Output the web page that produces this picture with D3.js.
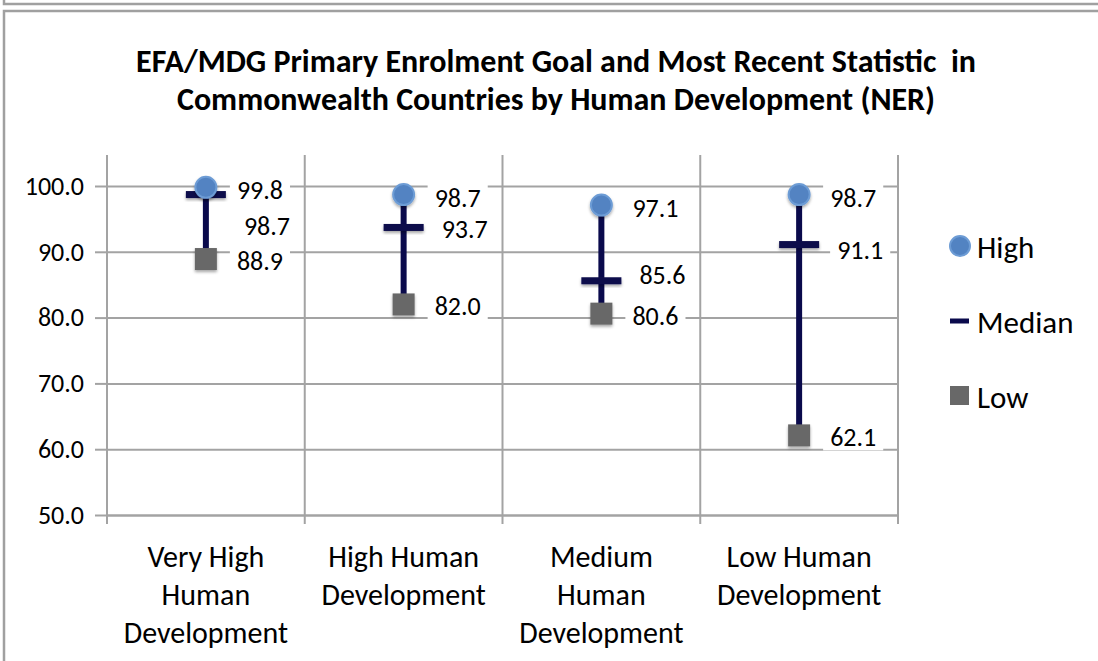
<!DOCTYPE html>
<html>
<head>
<meta charset="utf-8">
<script src="https://cdn.jsdelivr.net/npm/d3@7"></script>
<style>
  body { margin: 0; background: #fff; }
  text { font-family: Carlito, Lato, "Open Sans", sans-serif; fill: #000; }
</style>
</head>
<body>
<div id="chart"></div>
<script>
// Chart values
const categories = ['Very High Human Development', 'High Human Development', 'Medium Human Development', 'Low Human Development'];
const categoryLines = [['Very High', 'Human', 'Development'], ['High Human', 'Development'], ['Medium', 'Human', 'Development'], ['Low Human', 'Development']];
const highValues = [99.8, 98.7, 97.1, 98.7];
const medianValues = [98.7, 93.7, 85.6, 91.1];
const lowValues = [88.9, 82.0, 80.6, 62.1];
const yTicks = [50, 60, 70, 80, 90, 100];
const seriesNames = ['High', 'Median', 'Low'];
const titleLines = ['EFA/MDG Primary Enrolment Goal and Most Recent Statistic  in', 'Commonwealth Countries by Human Development (NER)'];

const W = 1098, H = 661;
const margin = {top: 155, left: 107, right: 200, bottom: 146};
const width = W - margin.left - margin.right,
  height = H - margin.top - margin.bottom;
const gridColor = '#a3a3a3';

const root = d3.select('#chart').append('svg')
  .attr('width', W)
  .attr('height', H);

// soft shadow used under the markers
const defs = root.append('defs');
const shadow = defs.append('filter').attr('id', 'shadow')
  .attr('x', '-50%').attr('y', '-50%').attr('width', '200%').attr('height', '200%');
shadow.append('feDropShadow')
  .attr('dx', 0).attr('dy', 2).attr('stdDeviation', 1.6)
  .attr('flood-color', '#000').attr('flood-opacity', 0.35);

// outer frames from the source document
root.append('path')
  .attr('d', `M4,0 V4 H${W}`)
  .attr('fill', 'none').attr('stroke', '#a0a0a0').attr('stroke-width', 2.5);
root.append('path')
  .attr('d', `M4,${H} V11 H${W}`)
  .attr('fill', 'none').attr('stroke', '#a0a0a0').attr('stroke-width', 2.5);

// title
root.append('text')
  .attr('x', 556)
  .attr('y', 72)
  .attr('text-anchor', 'middle')
  .style('font-size', '32px')
  .style('font-weight', 'bold')
  .style('white-space', 'pre')
  .selectAll('tspan')
  .data(titleLines)
  .enter()
  .append('tspan')
  .attr('x', 556)
  .attr('dy', (d, i) => i === 0 ? 0 : 38)
  .text(d => d);

const svg = root.append('g')
  .attr('transform', `translate(${margin.left}, ${margin.top})`);

// scales
const xScale = d3.scaleBand()
  .domain(categories)
  .range([0, width]);

const yScale = d3.scaleLinear()
  .domain([50, 100])
  .range([height, 31]);

// horizontal gridlines
svg.append('g')
  .attr('class', 'grid')
  .call(d3.axisLeft(yScale).tickValues(yTicks).tickSize(-width).tickFormat(''))
  .call(g => g.select('.domain').remove())
  .call(g => g.selectAll('line').attr('stroke', gridColor).attr('stroke-width', 2));

// vertical gridlines at category borders
const borders = categories.map(c => xScale(c) + xScale.bandwidth());
svg.append('g')
  .selectAll('line')
  .data(borders)
  .enter()
  .append('line')
  .attr('x1', d => d).attr('x2', d => d)
  .attr('y1', 0).attr('y2', height + 9)
  .attr('stroke', gridColor).attr('stroke-width', 2);

// y axis
const yAxis = d3.axisLeft(yScale)
  .tickValues(yTicks)
  .tickSize(12)
  .tickPadding(11)
  .tickFormat(d3.format('.1f'));

svg.append('g')
  .attr('class', 'axis y-axis')
  .call(yAxis)
  .call(g => g.select('.domain').remove())
  .call(g => g.selectAll('line').attr('stroke', gridColor).attr('stroke-width', 2))
  .call(g => g.selectAll('text').style('font-size', '26px').attr('fill', '#000'));

svg.append('line')
  .attr('x1', 0).attr('x2', 0)
  .attr('y1', 0).attr('y2', height + 9)
  .attr('stroke', gridColor).attr('stroke-width', 2);

// x axis (category labels, wrapped like the original)
const xAxis = d3.axisBottom(xScale)
  .tickSize(0)
  .tickPadding(0)
  .tickFormat('');

const xAxisGroup = svg.append('g')
  .attr('class', 'axis x-axis')
  .attr('transform', `translate(0, ${height})`)
  .call(xAxis)
  .call(g => g.select('.domain').attr('stroke', gridColor).attr('stroke-width', 2));

xAxisGroup.selectAll('.tick')
  .append('text')
  .attr('text-anchor', 'middle')
  .attr('y', 52)
  .style('font-size', '30px')
  .selectAll('tspan')
  .data((d, i) => categoryLines[i])
  .enter()
  .append('tspan')
  .attr('x', 0)
  .attr('dy', (d, i) => i === 0 ? 0 : 38)
  .text(d => d);

// marker data
const rows = categories.map((c, i) => ({
  cat: c, high: highValues[i], median: medianValues[i], low: lowValues[i]
}));
const cx = d => xScale(d.cat) + xScale.bandwidth() / 2;

const navy = '#0a0a4c';

// high-low stems
svg.selectAll('.stem')
  .data(rows)
  .enter()
  .append('line')
  .attr('class', 'stem')
  .attr('x1', cx).attr('x2', cx)
  .attr('y1', d => yScale(d.high))
  .attr('y2', d => yScale(d.low))
  .attr('stroke', navy)
  .attr('stroke-width', 6);

// median dashes
svg.selectAll('.median')
  .data(rows)
  .enter()
  .append('rect')
  .attr('class', 'median')
  .attr('x', d => cx(d) - 20)
  .attr('y', d => yScale(d.median) - 3.5)
  .attr('width', 40)
  .attr('height', 7)
  .attr('fill', navy)
  .attr('filter', 'url(#shadow)');

// low squares
svg.selectAll('.low')
  .data(rows)
  .enter()
  .append('rect')
  .attr('class', 'low')
  .attr('x', d => cx(d) - 11)
  .attr('y', d => yScale(d.low) - 11)
  .attr('width', 22)
  .attr('height', 22)
  .attr('fill', '#686868')
  .attr('filter', 'url(#shadow)');

// high circles
svg.selectAll('.high')
  .data(rows)
  .enter()
  .append('circle')
  .attr('class', 'high')
  .attr('cx', cx)
  .attr('cy', d => yScale(d.high))
  .attr('r', 10.5)
  .attr('fill', '#5283c2')
  .attr('stroke', '#6d9cd5')
  .attr('stroke-width', 2)
  .attr('filter', 'url(#shadow)');

// data labels with white backing, nudged where the original moved them
const medianNudge = [29, 0, -8, 3];
const labels = [];
rows.forEach((d, i) => {
  labels.push({x: cx(d) + 31, y: yScale(d.high) + 3, v: d.high});
  labels.push({x: cx(d) + 38, y: yScale(d.median) + 2 + medianNudge[i], v: d.median});
  labels.push({x: cx(d) + 31, y: yScale(d.low) + 2, v: d.low});
});

const labelGroups = svg.selectAll('.label')
  .data(labels)
  .enter()
  .append('g')
  .attr('class', 'label');

labelGroups.append('text')
  .attr('x', d => d.x)
  .attr('y', d => d.y)
  .attr('dominant-baseline', 'central')
  .style('font-size', '26px')
  .text(d => d3.format('.1f')(d.v));

labelGroups.each(function() {
  const g = d3.select(this);
  const box = g.select('text').node().getBBox();
  g.insert('rect', 'text')
    .attr('x', box.x - 7)
    .attr('y', box.y + 3)
    .attr('width', box.width + 14)
    .attr('height', box.height - 6)
    .attr('fill', '#fff');
});

// legend
const legend = root.append('g')
  .attr('transform', 'translate(950, 246)');

const legendItems = legend.selectAll('g')
  .data(seriesNames)
  .enter()
  .append('g')
  .attr('transform', (d, i) => `translate(0, ${i * 75})`);

legendItems.filter(d => d === 'High')
  .append('circle')
  .attr('cx', 10).attr('cy', 0).attr('r', 10)
  .attr('fill', '#5283c2').attr('stroke', '#6d9cd5').attr('stroke-width', 2);

legendItems.filter(d => d === 'Median')
  .append('rect')
  .attr('x', 0).attr('y', -2.5).attr('width', 19).attr('height', 5)
  .attr('fill', navy);

legendItems.filter(d => d === 'Low')
  .append('rect')
  .attr('x', 0).attr('y', -10).attr('width', 19).attr('height', 19)
  .attr('fill', '#686868');

legendItems.append('text')
  .attr('x', 27)
  .attr('y', 1)
  .attr('dominant-baseline', 'central')
  .style('font-size', '31px')
  .text(d => d);
</script>
</body>
</html>
